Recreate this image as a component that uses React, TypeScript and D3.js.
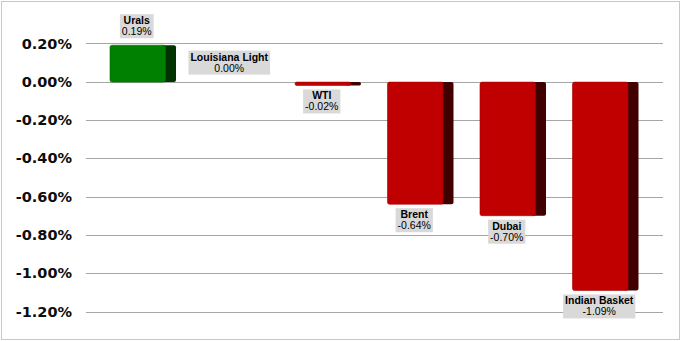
import React, { useEffect, useRef } from "react";
import * as d3 from "d3";

const categories = ["Urals", "Louisiana Light", "WTI", "Brent", "Dubai", "Indian Basket"];
const values = [0.19, 0.0, -0.02, -0.64, -0.7, -1.09];
const valueLabels = ["0.19%", "0.00%", "-0.02%", "-0.64%", "-0.70%", "-1.09%"];
const tickValues = [0.2, 0, -0.2, -0.4, -0.6, -0.8, -1.0, -1.2];
const tickLabels = ["0.20%", "0.00%", "-0.20%", "-0.40%", "-0.60%", "-0.80%", "-1.00%", "-1.20%"];

const W = 681;
const H = 341;

export default function App() {
  const ref = useRef<SVGSVGElement>(null);

  useEffect(() => {
    const svg = d3.select(ref.current);
    svg.selectAll("*").remove();

    const y = d3.scaleLinear().domain([-1.2, 0.2]).range([311.5, 43.3]);
    const x = d3
      .scaleBand<string>()
      .domain(categories)
      .range([86, 652])
      .paddingInner(0.4)
      .paddingOuter(0.2595);

    const gridX1 = 86;
    const gridX2 = 663;
    const sideW = 10.5;

    svg
      .append("rect")
      .attr("x", 0)
      .attr("y", 0)
      .attr("width", W)
      .attr("height", H)
      .attr("fill", "#ffffff");

    svg
      .append("rect")
      .attr("x", 1.5)
      .attr("y", 1.5)
      .attr("width", 678)
      .attr("height", 338)
      .attr("fill", "none")
      .attr("stroke", "#C8C8C8")
      .attr("stroke-width", 1);

    // gridlines
    svg
      .append("g")
      .selectAll("line")
      .data(tickValues)
      .join("line")
      .attr("x1", gridX1)
      .attr("x2", gridX2)
      .attr("y1", (d) => Math.round(y(d)) + 0.5)
      .attr("y2", (d) => Math.round(y(d)) + 0.5)
      .attr("stroke", "#A6A6A6")
      .attr("stroke-width", 1.2);

    // tick labels
    svg
      .append("g")
      .selectAll("text")
      .data(tickValues)
      .join("text")
      .attr("x", 72)
      .attr("y", (d) => y(d))
      .attr("dy", "0.36em")
      .attr("text-anchor", "end")
      .attr("font-family", "'DejaVu Sans', Verdana, sans-serif")
      .attr("font-weight", "bold")
      .attr("font-size", 14.5)
      .attr("fill", "#0D0D0D")
      .text((d, i) => tickLabels[i]);

    const y0 = y(0) + 0.5;

    // bars
    const bars = svg.append("g");
    categories.forEach((c, i) => {
      const v = values[i];
      if (v === 0) return;
      const x0 = x(c) as number;
      const bw = x.bandwidth();
      const top = Math.min(y(v), y0);
      const h = Math.abs(y(v) - y0);
      const pos = v >= 0;
      const front = pos ? "#008000" : "#C00000";
      const side = pos ? "#003300" : "#400000";
      bars
        .append("rect")
        .attr("x", x0 + bw - 4)
        .attr("y", top)
        .attr("width", sideW + 4)
        .attr("height", h)
        .attr("rx", Math.min(2, h / 2))
        .attr("fill", side);
      bars
        .append("rect")
        .attr("x", x0)
        .attr("y", top)
        .attr("width", bw)
        .attr("height", h)
        .attr("rx", Math.min(2, h / 2))
        .attr("fill", front)
        .attr("stroke", pos ? "#006A00" : "#A80000")
        .attr("stroke-width", 0.6);
    });

    // data labels
    const labels = svg.append("g");
    categories.forEach((c, i) => {
      const v = values[i];
      const cx = (x(c) as number) + x.bandwidth() / 2 - 1;
      const boxH = 24;
      const top = v >= 0 ? y(v) - 7 - boxH : y(v) + 4;
      const g = labels.append("g");
      const rect = g.append("rect").attr("fill", "#D9D9D9");
      const t1 = g
        .append("text")
        .attr("x", cx)
        .attr("y", top + 10)
        .attr("text-anchor", "middle")
        .attr("font-family", "'Liberation Sans', Arial, sans-serif")
        .attr("font-weight", "bold")
        .attr("font-size", 10.5)
        .attr("fill", "#000")
        .text(c);
      const t2 = g
        .append("text")
        .attr("x", cx)
        .attr("y", top + 21)
        .attr("text-anchor", "middle")
        .attr("font-family", "'Liberation Sans', Arial, sans-serif")
        .attr("font-size", 10.5)
        .attr("fill", "#000")
        .text(valueLabels[i]);
      const w1 = (t1.node() as SVGTextElement).getComputedTextLength();
      const w2 = (t2.node() as SVGTextElement).getComputedTextLength();
      const bw = Math.max(w1, w2) + 4;
      rect
        .attr("x", cx - bw / 2)
        .attr("y", top)
        .attr("width", bw)
        .attr("height", boxH);
    });
  }, []);

  return (
    <div style={{ position: "fixed", left: 0, top: 0, width: W, height: H }}>
      <svg ref={ref} width={W} height={H} style={{ display: "block" }} />
    </div>
  );
}
